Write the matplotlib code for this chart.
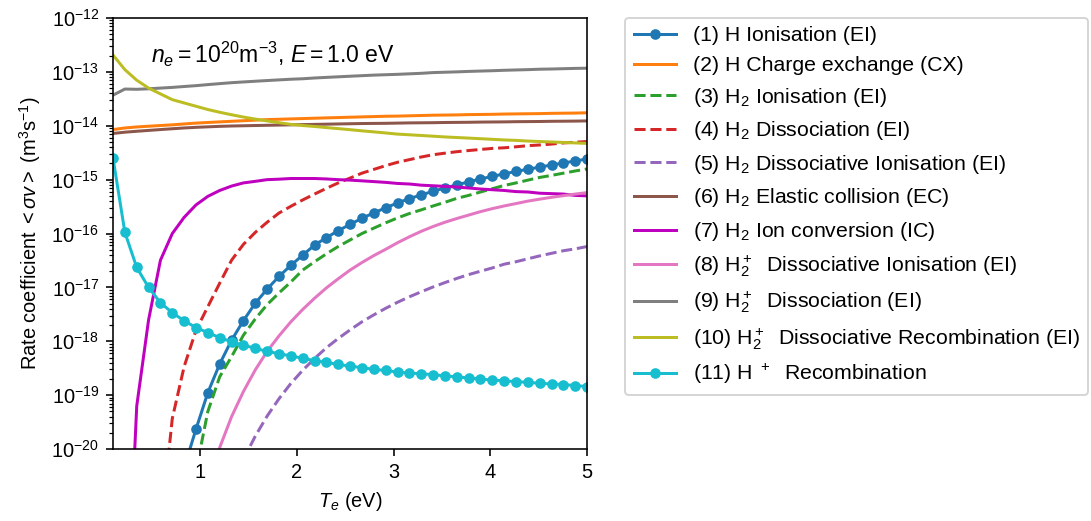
import numpy as np
import matplotlib
matplotlib.use("Agg")
import matplotlib.pyplot as plt

plt.rcParams["font.family"] = ["Liberation Sans", "DejaVu Sans"]
plt.rcParams["mathtext.fontset"] = "custom"
plt.rcParams["mathtext.rm"] = "Liberation Sans"
plt.rcParams["mathtext.it"] = "Liberation Sans:italic"
plt.rcParams["mathtext.bf"] = "Liberation Sans:bold"

# Electron temperature grid (eV)
Te = np.linspace(0.1, 5.0, 41)

# Rate coefficients <sigma v> (m^3 s^-1) on the Te grid
h_ion = [1e-60, 1e-40, 1e-31, 5e-27, 3e-24, 2e-22, 4.5e-21, 2.35e-20, 1.12e-19, 3.8e-19,
         1.05e-18, 2.42e-18, 5.1e-18, 9.3e-18, 1.6e-17, 2.57e-17, 3.97e-17, 6.1e-17, 8.4e-17, 1.13e-16,
         1.48e-16, 1.92e-16, 2.42e-16, 3.0e-16, 3.7e-16, 4.45e-16, 5.2e-16, 6.1e-16, 7.0e-16, 8.0e-16,
         9.1e-16, 1.03e-15, 1.15e-15, 1.28e-15, 1.42e-15, 1.56e-15, 1.71e-15, 1.87e-15, 2.04e-15, 2.22e-15,
         2.42e-15]
h_cx = [8.5e-15, 9.1e-15, 9.5e-15, 9.8e-15, 1.01e-14, 1.04e-14, 1.08e-14, 1.12e-14, 1.15e-14, 1.18e-14,
        1.21e-14, 1.24e-14, 1.27e-14, 1.30e-14, 1.32e-14, 1.34e-14, 1.36e-14, 1.38e-14, 1.40e-14, 1.42e-14,
        1.44e-14, 1.46e-14, 1.48e-14, 1.50e-14, 1.51e-14, 1.53e-14, 1.55e-14, 1.57e-14, 1.58e-14, 1.59e-14,
        1.61e-14, 1.62e-14, 1.63e-14, 1.65e-14, 1.66e-14, 1.67e-14, 1.68e-14, 1.70e-14, 1.71e-14, 1.72e-14,
        1.74e-14]
h2_ion = [1e-60, 1e-42, 1e-33, 1e-28, 1e-25, 1e-23, 5e-22, 4e-21, 5e-20, 2.2e-19,
          5.2e-19, 1.3e-18, 2.6e-18, 4.8e-18, 7.9e-18, 1.26e-17, 2.1e-17, 3.0e-17, 4.2e-17, 5.75e-17,
          7.6e-17, 1.0e-16, 1.26e-16, 1.58e-16, 1.95e-16, 2.35e-16, 2.75e-16, 3.25e-16, 3.8e-16, 4.5e-16,
          5.1e-16, 5.9e-16, 6.8e-16, 7.8e-16, 8.7e-16, 9.8e-16, 1.1e-15, 1.2e-15, 1.32e-15, 1.45e-15,
          1.58e-15]
h2_diss = [1e-60, 1e-45, 1e-32, 1e-25, 3e-22, 3.7e-20, 3.4e-19, 1.6e-18, 4.4e-18, 1.2e-17,
           3.2e-17, 6.3e-17, 1.05e-16, 1.62e-16, 2.4e-16, 3.2e-16, 4.2e-16, 5.4e-16, 6.9e-16, 8.7e-16,
           1.07e-15, 1.32e-15, 1.55e-15, 1.82e-15, 2.1e-15, 2.35e-15, 2.63e-15, 2.9e-15, 3.1e-15, 3.3e-15,
           3.47e-15, 3.63e-15, 3.8e-15, 3.9e-15, 4.07e-15, 4.27e-15, 4.4e-15, 4.57e-15, 4.8e-15, 4.95e-15,
           5.1e-15]
h2_dion = [1e-60, 1e-50, 1e-45, 1e-40, 1e-36, 1e-32, 1e-29, 1e-26, 1e-24, 3e-23,
           1e-21, 6.4e-21, 1.74e-20, 4.1e-20, 8.6e-20, 1.65e-19, 2.9e-19, 4.8e-19, 7.6e-19, 1.13e-18,
           1.63e-18, 2.3e-18, 3.1e-18, 4.1e-18, 5.3e-18, 6.7e-18, 8.3e-18, 1.02e-17, 1.23e-17, 1.47e-17,
           1.73e-17, 2.0e-17, 2.3e-17, 2.7e-17, 3.0e-17, 3.4e-17, 3.85e-17, 4.3e-17, 4.8e-17, 5.2e-17,
           5.75e-17]
h2_el = [7.2e-15, 7.6e-15, 7.9e-15, 8.2e-15, 8.5e-15, 8.8e-15, 9.1e-15, 9.35e-15, 9.55e-15, 9.75e-15,
         9.9e-15, 1.0e-14, 1.01e-14, 1.02e-14, 1.03e-14, 1.04e-14, 1.05e-14, 1.06e-14, 1.07e-14, 1.08e-14,
         1.09e-14, 1.10e-14, 1.105e-14, 1.11e-14, 1.12e-14, 1.13e-14, 1.135e-14, 1.14e-14, 1.15e-14, 1.155e-14,
         1.16e-14, 1.17e-14, 1.175e-14, 1.18e-14, 1.19e-14, 1.195e-14, 1.2e-14, 1.21e-14, 1.215e-14, 1.22e-14,
         1.23e-14]
h2_ic = [1e-40, 1e-24, 6.3e-20, 2.5e-18, 3.2e-17, 1.0e-16, 2.0e-16, 3.4e-16, 4.9e-16, 6.3e-16,
         7.6e-16, 8.7e-16, 9.3e-16, 1.0e-15, 1.02e-15, 1.05e-15, 1.05e-15, 1.05e-15, 1.03e-15, 1.0e-15,
         9.8e-16, 9.5e-16, 9.2e-16, 8.9e-16, 8.5e-16, 8.3e-16, 7.9e-16, 7.7e-16, 7.5e-16, 7.3e-16,
         7.0e-16, 6.7e-16, 6.5e-16, 6.3e-16, 6.0e-16, 5.9e-16, 5.6e-16, 5.5e-16, 5.4e-16, 5.1e-16,
         5.0e-16]
h2p_dion = [1e-60, 1e-55, 1e-50, 1e-45, 1e-40, 1e-35, 1e-30, 1e-26, 5e-22, 1.07e-20,
            4.0e-20, 1.17e-19, 2.95e-19, 6.5e-19, 1.26e-18, 2.3e-18, 3.9e-18, 6.3e-18, 9.8e-18, 1.45e-17,
            2.1e-17, 2.9e-17, 3.9e-17, 5.1e-17, 6.75e-17, 8.7e-17, 1.1e-16, 1.35e-16, 1.62e-16, 1.9e-16,
            2.2e-16, 2.55e-16, 2.9e-16, 3.25e-16, 3.6e-16, 4.0e-16, 4.35e-16, 4.7e-16, 5.05e-16, 5.4e-16,
            5.75e-16]
h2p_diss = [3.7e-14, 4.8e-14, 4.75e-14, 4.85e-14, 5.0e-14, 5.15e-14, 5.35e-14, 5.55e-14, 5.8e-14, 6.05e-14,
            6.3e-14, 6.5e-14, 6.7e-14, 6.9e-14, 7.1e-14, 7.3e-14, 7.45e-14, 7.7e-14, 7.9e-14, 8.1e-14,
            8.3e-14, 8.5e-14, 8.7e-14, 8.85e-14, 9.0e-14, 9.2e-14, 9.4e-14, 9.7e-14, 9.85e-14, 1.0e-13,
            1.02e-13, 1.035e-13, 1.05e-13, 1.07e-13, 1.085e-13, 1.1e-13, 1.12e-13, 1.13e-13, 1.145e-13, 1.16e-13,
            1.17e-13]
h2p_rec = [2.05e-13, 1.1e-13, 7.0e-14, 5.0e-14, 3.9e-14, 3.05e-14, 2.65e-14, 2.3e-14, 2.0e-14, 1.78e-14,
           1.6e-14, 1.45e-14, 1.33e-14, 1.23e-14, 1.14e-14, 1.06e-14, 1.01e-14, 9.7e-15, 9.25e-15, 8.85e-15,
           8.45e-15, 8.05e-15, 7.7e-15, 7.35e-15, 7.0e-15, 6.8e-15, 6.6e-15, 6.4e-15, 6.2e-15, 6.05e-15,
           5.9e-15, 5.75e-15, 5.6e-15, 5.45e-15, 5.35e-15, 5.2e-15, 5.1e-15, 5.0e-15, 4.9e-15, 4.8e-15,
           4.7e-15]
hp_rec = [2.5e-15, 1.05e-16, 2.35e-17, 1.0e-17, 5.2e-18, 3.4e-18, 2.4e-18, 1.8e-18, 1.45e-18, 1.17e-18,
          9.8e-19, 8.5e-19, 7.4e-19, 6.5e-19, 5.9e-19, 5.35e-19, 4.85e-19, 4.37e-19, 4.07e-19, 3.72e-19,
          3.47e-19, 3.24e-19, 3.02e-19, 2.88e-19, 2.69e-19, 2.57e-19, 2.51e-19, 2.40e-19, 2.29e-19, 2.19e-19,
          2.09e-19, 2.00e-19, 1.91e-19, 1.86e-19, 1.78e-19, 1.74e-19, 1.66e-19, 1.62e-19, 1.58e-19, 1.51e-19,
          1.45e-19]

dpi = 144
fig = plt.figure(figsize=(1091 / dpi, 521 / dpi), dpi=dpi)
ax = fig.add_axes([0.1036, 0.138, 0.4346, 0.8275])

ms = 4.3
ax.semilogy(Te, h_ion, "o-", color="C0", ms=ms, label="(1) H Ionisation (EI)")
ax.semilogy(Te, h_cx, "-", color="C1", label="(2) H Charge exchange (CX)")
ax.semilogy(Te, h2_ion, "--", color="C2", label="(3) H$_2$ Ionisation (EI)")
ax.semilogy(Te, h2_diss, "--", color="C3", label="(4) H$_2$ Dissociation (EI)")
ax.semilogy(Te, h2_dion, "--", color="C4", label="(5) H$_2$ Dissociative Ionisation (EI)")
ax.semilogy(Te, h2_el, "-", color="C5", label="(6) H$_2$ Elastic collision (EC)")
ax.semilogy(Te, h2_ic, "-", color="m", label="(7) H$_2$ Ion conversion (IC)")
ax.semilogy(Te, h2p_dion, "-", color="C6", label="(8) H$_2^+$  Dissociative Ionisation (EI)")
ax.semilogy(Te, h2p_diss, "-", color="C7", label="(9) H$_2^+$  Dissociation (EI)")
ax.semilogy(Te, h2p_rec, "-", color="C8", label="(10) H$_2^+$  Dissociative Recombination (EI)")
ax.semilogy(Te, hp_rec, "o-", color="C9", ms=ms, label="(11) H $^+$  Recombination")

ax.set_xlim(0.1, 5)
ax.set_ylim(1e-20, 1e-12)
ax.set_xticks([1, 2, 3, 4, 5])
ax.set_xlabel("$T_e$ (eV)")
ax.set_ylabel(r"Rate coefficient $<\sigma v>$ (m$^3$s$^{-1}$)")
ax.text(0.08, 0.915, r"$n_e = 10^{20}$m$^{-3}$, $E = 1.0$ eV", transform=ax.transAxes,
        fontsize=11.5, va="center")

ax.legend(loc="upper left", bbox_to_anchor=(1.08, 1.0), borderaxespad=0.0, fontsize=10.6)

fig.savefig("out.png", dpi=dpi)
